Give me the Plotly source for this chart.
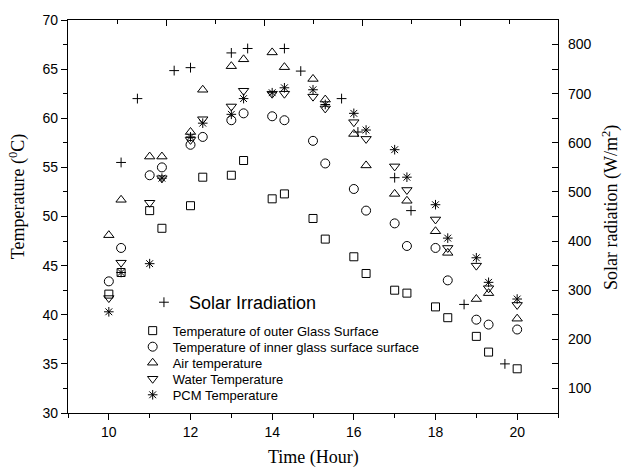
import plotly.graph_objects as go

# ---------------- data ----------------
hours = [10, 10.3, 11, 11.3, 12, 12.3, 13, 13.3, 14, 14.3, 15, 15.3,
         16, 16.3, 17, 17.3, 18, 18.3, 19, 19.3, 20]
outer_glass = [42.1, 44.3, 50.6, 48.8, 51.1, 54.0, 54.2, 55.7, 51.8, 52.3, 49.8, 47.7,
               45.9, 44.2, 42.5, 42.2, 40.8, 39.7, 37.8, 36.2, 34.5]
inner_glass = [43.4, 46.8, 54.2, 55.0, 57.3, 58.1, 59.8, 60.5, 60.2, 59.8, 57.7, 55.4,
               52.8, 50.6, 49.3, 47.0, 46.8, 43.5, 39.5, 39.0, 38.5]
air_temp = [48.1, 51.7, 56.1, 56.1, 58.6, 62.9, 65.3, 66.0, 66.7, 65.2, 64.0, 61.9,
            58.4, 55.2, 52.3, 51.6, 48.5, 46.3, 41.6, 42.2, 39.6]
water_temp = [41.7, 45.3, 51.4, 53.9, 57.8, 59.9, 61.2, 62.8, 62.5, 62.5, 62.2, 61.0,
              59.6, 57.9, 55.1, 52.7, 49.7, 46.8, 45.0, 42.7, 41.0]
pcm_temp = [40.3, 44.3, 45.2, 53.9, 58.1, 59.5, 60.4, 62.0, 62.6, 63.1, 62.9, 61.4,
            60.5, 58.8, 56.8, 54.0, 51.2, 47.8, 45.8, 43.3, 41.6]

solar_hours = [10.3, 10.7, 11.6, 12.0, 13.0, 13.4, 14.3, 14.7, 15.7, 16.1, 17.0, 17.4, 18.7, 19.7]
solar = [560, 690, 747, 753, 783, 792, 792, 746, 690, 622, 529, 462, 271, 150]

names = ["Temperature of outer Glass Surface",
         "Temperature of inner glass surface surface",
         "Air temperature",
         "Water Temperature",
         "PCM Temperature"]
series = [outer_glass, inner_glass, air_temp, water_temp, pcm_temp]
symbols = ["square-open", "circle-open", "triangle-up-open", "triangle-down-open", "asterisk-open"]
sizes = [8, 9, 9, 9, 8]

SANS = "Liberation Sans, Arial, sans-serif"
SERIF = "Liberation Serif, Times New Roman, serif"

# plot-area geometry (px) used only to place legends
PLOT_TOP, PLOT_BOTTOM = 16, 413
PLOT_H = PLOT_BOTTOM - PLOT_TOP

def py_to_paper(py):
    return (PLOT_BOTTOM - py) / PLOT_H

fig = go.Figure()

legend_ids = ["legend", "legend3", "legend4", "legend5", "legend6"]
for nm, ys, sym, sz, lid in zip(names, series, symbols, sizes, legend_ids):
    fig.add_trace(go.Scatter(
        x=hours, y=ys, mode="markers", name=nm, legend=lid,
        marker=dict(symbol=sym, size=sz, color="black", line=dict(color="black", width=1)),
        xaxis="x", yaxis="y"))

fig.add_trace(go.Scatter(
    x=solar_hours, y=solar, mode="markers", name="\u00a0Solar Irradiation", legend="legend2",
    marker=dict(symbol="cross-thin-open", size=7, color="black", line=dict(color="black", width=1)),
    xaxis="x", yaxis="y2"))

# dummy trace so the mirrored top axis is drawn
fig.add_trace(go.Scatter(x=[None], y=[None], xaxis="x2", yaxis="y", showlegend=False,
                         hoverinfo="skip"))

axis_common = dict(showline=True, linecolor="black", linewidth=1.3, showgrid=False,
                   zeroline=False, tickcolor="black", tickwidth=1.2,
                   tickfont=dict(family=SANS, size=14, color="black"))

legend_style = dict(xanchor="left", yanchor="top", bgcolor="rgba(0,0,0,0)",
                    borderwidth=0, font=dict(family=SANS, size=13, color="black"))
legend_layout = {}
first_center, row_gap = 330.7, 16.2
for i, lid in enumerate(legend_ids):
    center = first_center + i * row_gap
    legend_layout[lid] = dict(x=0.132, y=py_to_paper(center - 16), **legend_style)

fig.update_layout(
    width=622, height=473,
    margin=dict(l=68, r=64, t=16, b=60),
    paper_bgcolor="white", plot_bgcolor="white",
    xaxis=dict(range=[9, 21], tick0=0, dtick=2, ticks="outside", ticklen=6,
               minor=dict(dtick=1, ticks="outside", ticklen=4, tickcolor="black", tickwidth=1.2),
               **axis_common),
    xaxis2=dict(range=[0, 10], overlaying="x", side="top", tick0=0, dtick=2,
                ticks="inside", ticklen=6, showticklabels=False,
                minor=dict(dtick=1, ticks="inside", ticklen=4, tickcolor="black", tickwidth=1.2),
                **axis_common),
    yaxis=dict(range=[30, 70], tick0=0, dtick=5, ticks="outside", ticklen=6,
               minor=dict(dtick=2.5, ticks="outside", ticklen=4, tickcolor="black", tickwidth=1.2),
               **axis_common),
    yaxis2=dict(range=[50, 850], overlaying="y", side="right", tick0=0, dtick=100,
                ticks="inside", ticklen=6, ticklabelstandoff=6,
                minor=dict(dtick=50, ticks="inside", ticklen=6, tickcolor="black", tickwidth=1.2),
                **axis_common),
    legend2=dict(x=0.155, y=py_to_paper(302.7 - 20), xanchor="left", yanchor="top",
                 bgcolor="rgba(0,0,0,0)", borderwidth=0,
                 font=dict(family=SANS, size=18, color="black")),
    showlegend=True,
    annotations=[
        dict(text="Time (Hour)", x=0.502, y=-0.113, xref="paper", yref="paper",
             xanchor="center", yanchor="middle", showarrow=False,
             font=dict(family=SERIF, size=18, color="black")),
        dict(text="Temperature (<sup>0</sup>C)", x=-0.102, y=0.549, xref="paper", yref="paper",
             xanchor="center", yanchor="middle", showarrow=False, textangle=-90,
             font=dict(family=SERIF, size=18, color="black")),
        dict(text="Solar radiation (W/m<sup>2</sup>)", x=1.108, y=0.524, xref="paper", yref="paper",
             xanchor="center", yanchor="middle", showarrow=False, textangle=-90,
             font=dict(family=SERIF, size=18, color="black")),
    ],
)
fig.update_layout(**legend_layout)

fig.write_html("out.html")
